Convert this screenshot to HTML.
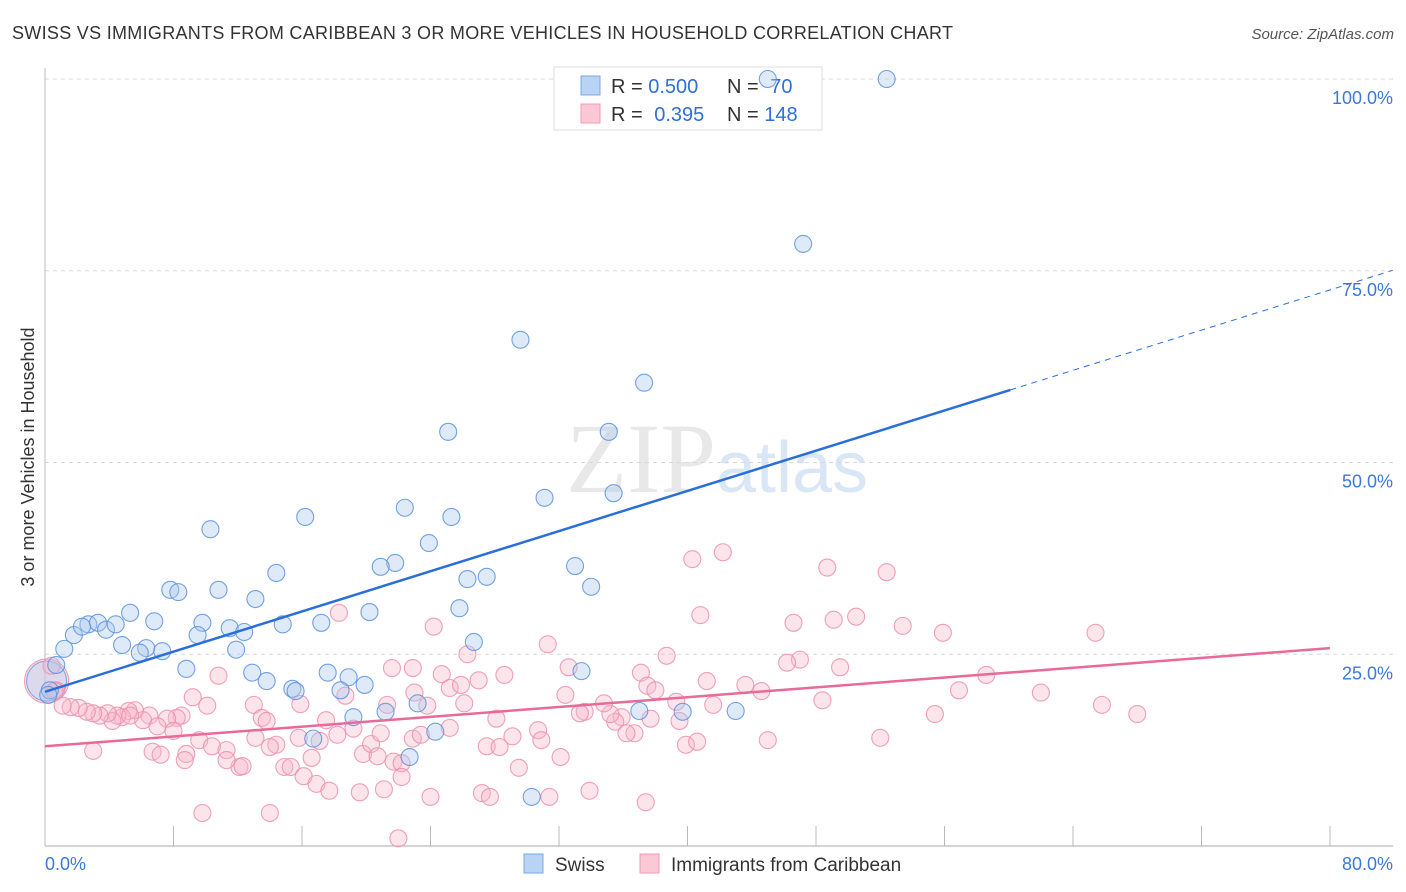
<!DOCTYPE html>
<html><head><meta charset="utf-8">
<style>
body{margin:0;background:#fff;font-family:"Liberation Sans",sans-serif;}
svg{display:block}
</style></head>
<body>
<svg id="chart" width="1406" height="892" xmlns="http://www.w3.org/2000/svg">
<text x="12" y="39" font-size="18" fill="#333" textLength="941">SWISS VS IMMIGRANTS FROM CARIBBEAN 3 OR MORE VEHICLES IN HOUSEHOLD CORRELATION CHART</text>
<text x="1394" y="39" font-size="15" fill="#555" font-style="italic" text-anchor="end">Source: ZipAtlas.com</text>
<text x="716" y="492" font-size="100" font-family="Liberation Serif,serif" fill="#e8e8e8" text-anchor="end">ZIP</text>
<text x="716" y="492" font-size="72" fill="#d8e6f6">atlas</text>
<g id="grid"></g>
<g id="axes"></g>
<g>
<rect x="554" y="67" width="268" height="63" fill="#fff" stroke="#ddd"/>
<rect x="581" y="76" width="19" height="19" fill="#b8d3f3" stroke="#7aa8e2"/>
<rect x="581" y="104" width="19" height="19" fill="#fbc8d6" stroke="#f09ab5"/>
<text x="611" y="93" font-size="20" fill="#333">R = <tspan fill="#2f6fd6">0.500</tspan></text>
<text x="727" y="93" font-size="20" fill="#333">N = <tspan fill="#2f6fd6" dx="6">70</tspan></text>
<text x="611" y="121" font-size="20" fill="#333">R = <tspan fill="#2f6fd6" dx="6">0.395</tspan></text>
<text x="727" y="121" font-size="20" fill="#333">N = <tspan fill="#2f6fd6">148</tspan></text>
</g>
<g id="lines"></g>
<g id="pts"></g>
<text transform="translate(34,457) rotate(-90)" font-size="18" fill="#333" text-anchor="middle">3 or more Vehicles in Household</text>
<g>
<rect x="524" y="854" width="19" height="19" fill="#b8d3f3" stroke="#7aa8e2"/>
<text x="555" y="871" font-size="19" fill="#333">Swiss</text>
<rect x="640" y="854" width="19" height="19" fill="#fbc8d6" stroke="#f09ab5"/>
<text x="671" y="871" font-size="19" fill="#333">Immigrants from Caribbean</text>
</g>
</svg>
<script>
const xTicks=[0,8,16,24,32,40,48,56,64,72,80];
const yTicks=[25,50,75,100];
const yTickLabels=["25.0%","50.0%","75.0%","100.0%"];
const xEndLabels=["0.0%","80.0%"];
const swissX=[52.4,45.0,47.2,29.6,37.3,25.1,35.1,35.4,31.1,10.3,22.4,25.3,16.2,23.9,21.8,20.9,33.0,26.3,27.5,34.0,14.4,7.8,8.3,10.8,13.1,5.3,6.8,9.8,25.8,20.2,1.8,2.7,3.3,3.8,4.4,2.3,4.8,6.3,7.3,5.9,1.2,9.5,11.5,12.4,14.8,17.2,11.9,26.7,8.8,12.9,13.8,17.6,18.9,19.9,18.4,15.4,15.6,33.4,23.2,21.2,19.2,37.0,39.7,43.0,16.7,22.7,24.3,30.3,0.7,0.3,0.2];
const swissY=[100,100,78.5,66.0,60.4,54.0,54.0,46.0,45.4,41.3,44.1,42.9,42.9,39.5,36.9,36.4,36.5,34.8,35.1,33.8,35.6,33.4,33.1,33.4,32.2,30.4,29.3,29.1,31.0,30.5,27.5,28.9,29.1,28.2,28.9,28.6,26.2,25.8,25.4,25.2,25.7,27.5,28.4,27.9,28.9,29.1,25.6,26.6,23.1,22.6,21.5,22.6,22.0,21.0,20.3,20.5,20.2,22.8,18.6,17.5,16.8,17.6,17.5,17.6,14.0,11.6,14.9,6.4,23.6,20.3,19.7];
const carX=[42.2,40.3,48.7,52.4,40.8,46.6,49.1,50.5,53.4,55.9,65.4,18.3,24.2,31.3,47.0,46.2,49.5,38.7,32.6,28.6,24.7,26.3,27.0,25.2,25.9,22.9,21.6,58.6,41.2,43.6,44.6,37.1,37.5,38.0,56.9,62.0,65.8,68.0,55.4,48.4,41.6,39.3,32.4,33.6,35.9,35.5,35.2,33.3,28.1,26.1,23.0,23.8,21.3,18.7,15.9,13.0,10.8,9.2,10.1,8.5,8.2,7.6,6.5,6.1,5.6,5.2,4.8,4.5,4.2,3.9,3.4,3.0,2.6,2.1,1.6,1.1,0.7,0.4,0.6,7.0,8.0,8.8,9.6,10.4,11.3,12.1,13.1,13.5,13.8,14.4,14.9,15.3,15.8,16.6,17.1,17.5,18.2,19.2,19.8,20.3,20.7,20.9,21.7,22.2,22.9,23.4,25.2,27.5,28.3,29.1,29.5,30.7,30.9,32.1,34.8,36.7,37.7,39.5,39.9,45.0,52.0,3.0,6.7,7.2,8.7,11.3,12.3,14.0,16.1,16.9,17.7,19.6,21.1,22.2,24.0,27.2,27.7,31.4,33.9,37.4,9.8,14.0,22.0,40.6,36.2,5.3];
const carY=[38.3,37.4,36.3,35.7,30.1,29.1,29.5,29.9,28.7,27.8,27.8,30.4,28.6,26.3,24.3,23.9,23.3,24.8,23.3,22.3,22.4,25.0,21.6,20.6,21.0,23.2,23.2,22.3,21.5,21.0,20.2,22.6,20.9,20.3,20.3,20.0,18.4,17.2,17.2,19.0,18.4,18.8,19.7,17.5,16.8,16.2,17.2,17.3,16.6,18.6,20.0,18.3,18.4,19.6,18.5,18.4,22.2,19.4,18.3,17.0,16.7,16.6,17.0,16.4,17.7,17.6,16.8,17.0,16.3,17.3,17.0,17.3,17.5,18.0,18.1,18.3,20.3,23.5,20.2,15.6,15.0,12.0,13.8,13.0,12.5,10.3,14.1,16.7,16.3,13.2,10.3,10.3,14.1,11.5,13.7,16.4,14.5,15.3,12.0,13.3,11.7,14.7,11.0,10.8,14.0,14.5,15.4,13.0,12.9,14.3,10.2,15.1,13.8,11.6,18.6,14.7,16.6,16.3,13.2,13.8,14.1,12.4,12.3,11.9,11.2,11.2,10.4,12.9,9.1,8.1,7.2,7.0,7.4,9.0,6.4,6.9,6.4,6.4,7.2,5.7,4.3,4.3,1.0,13.6,14.7,17.0];
const swissLine={a:20.1,b:0.655,solidEnd:60.1,dashEnd:83.9};
const carLine={a:13.0,b:0.16,end:80};

const NS="http://www.w3.org/2000/svg";
const X0=45,X1=1330,Y0=846,Y100=79;
const sx=v=>X0+v*(X1-X0)/80;
const sy=v=>Y0-v*(Y0-Y100)/100;
function mk(tag,attrs,parent){const e=document.createElementNS(NS,tag);for(const k in attrs)e.setAttribute(k,attrs[k]);parent.appendChild(e);return e;}
const grid=document.getElementById('grid'),axes=document.getElementById('axes'),lines=document.getElementById('lines'),pts=document.getElementById('pts');
yTicks.forEach((t,i)=>{
 const g=mk('line',{x1:X0,x2:1393,y1:sy(t),y2:sy(t),stroke:'#d8d8d8','stroke-dasharray':'4,4'},grid);
 
 
 const l=mk('text',{x:1393,y:sy(t)+25,'font-size':18,fill:'#3b78d8','text-anchor':'end'},axes);
 l.textContent=yTickLabels[i];
 
 
});
const ax=mk('line',{x1:X0,x2:1393,y1:Y0,y2:Y0,stroke:'#aaa'},axes);


const ay=mk('line',{x1:X0,x2:X0,y1:68,y2:Y0,stroke:'#bbb'},axes);


xTicks.forEach(t=>{if(t===0)return;
 const k=mk('line',{x1:sx(t),x2:sx(t),y1:826,y2:Y0,stroke:'#bbb'},axes);
 
 
});
const lx0=mk('text',{x:X0,y:870,'font-size':18,fill:'#3b78d8'},axes);lx0.textContent=xEndLabels[0];


const lx1=mk('text',{x:1393,y:870,'font-size':18,fill:'#3b78d8','text-anchor':'end'},axes);lx1.textContent=xEndLabels[1];



function dot(x,y,r,fill,stroke,name){
 const c=mk('circle',{cx:sx(x),cy:sy(y),r:r,fill:fill,'fill-opacity':0.38,stroke:stroke,'stroke-width':1.1,'stroke-opacity':0.85},pts);
 
 
}
dot(0.1,21.5,22,'#f7b9cb','#ec8fae','caribbean-point-large');
dot(0.1,21.5,20,'#aac8ee','#6fa0e0','swiss-point-large');
carX.forEach((x,i)=>dot(x,carY[i],8.5,'#f7b9cb','#ec8fae','caribbean-point'));
swissX.forEach((x,i)=>dot(x,swissY[i],8.5,'#aac8ee','#5b92dc','swiss-point'));

const b1=mk('line',{x1:sx(0),y1:sy(swissLine.a),x2:sx(swissLine.solidEnd),y2:sy(swissLine.a+swissLine.b*swissLine.solidEnd),stroke:'#2a6fd9','stroke-width':2.5},lines);


const b2=mk('line',{x1:sx(swissLine.solidEnd),y1:sy(swissLine.a+swissLine.b*swissLine.solidEnd),x2:sx(swissLine.dashEnd),y2:sy(swissLine.a+swissLine.b*swissLine.dashEnd),stroke:'#2a6fd9','stroke-width':1,'stroke-dasharray':'6,5'},lines);


const p1=mk('line',{x1:sx(0),y1:sy(carLine.a),x2:sx(carLine.end),y2:sy(carLine.a+carLine.b*carLine.end),stroke:'#e86a98','stroke-width':2.5},lines);


document.getElementById('chart').appendChild(lines);
</script>
</body></html>
